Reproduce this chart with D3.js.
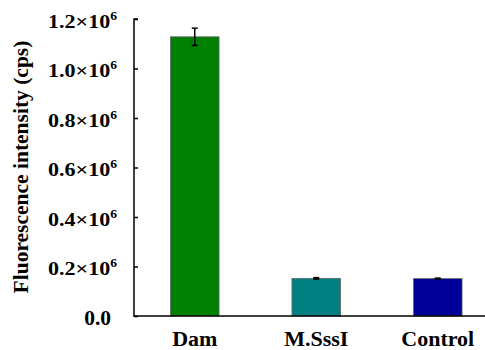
<!DOCTYPE html>
<html><head><meta charset="utf-8">
<script src="https://cdn.jsdelivr.net/npm/d3@7"></script>
<style>body{margin:0;background:#fff}svg{display:block}</style>
</head><body><svg id="c" width="485" height="350" font-family="'Liberation Serif', 'Times New Roman', Times, serif" font-weight="bold"></svg>
<script>
const categories = ["Dam", "M.SssI", "Control"];
const values = [1.128e6, 0.152e6, 0.151e6];
const errors = [0.035e6, 0.003e6, 0.002e6];
const colors = ["#008000", "#008080", "#000099"];
const yTicks = [0, 0.2e6, 0.4e6, 0.6e6, 0.8e6, 1.0e6, 1.2e6];

const svg = d3.select("#c");
const x0 = 134, yTop = 19, yBot = 316;
const x = d3.scaleBand().domain(categories).range([x0, x0 + 3 * 121.5]).paddingInner(0.6).paddingOuter(0.3);
const y = d3.scaleLinear().domain([0, 1.2e6]).range([yBot, yTop]);

// bars
svg.selectAll("rect.bar").data(categories).join("rect")
  .attr("x", d => x(d)).attr("width", x.bandwidth())
  .attr("y", (d, i) => y(values[i])).attr("height", (d, i) => y(0) - y(values[i]))
  .attr("fill", (d, i) => colors[i]).attr("stroke", "#666").attr("stroke-width", 0.8);

// error bars
const eb = svg.selectAll("g.err").data(categories).join("g").attr("stroke", "#000").attr("stroke-width", 1.5);
eb.append("line").attr("x1", d => x(d) + x.bandwidth() / 2).attr("x2", d => x(d) + x.bandwidth() / 2)
  .attr("y1", (d, i) => y(values[i] + errors[i])).attr("y2", (d, i) => y(values[i] - errors[i]));
eb.append("line").attr("x1", d => x(d) + x.bandwidth() / 2 - 3).attr("x2", d => x(d) + x.bandwidth() / 2 + 3)
  .attr("y1", (d, i) => y(values[i] + errors[i])).attr("y2", (d, i) => y(values[i] + errors[i]));
eb.append("line").attr("x1", d => x(d) + x.bandwidth() / 2 - 3).attr("x2", d => x(d) + x.bandwidth() / 2 + 3)
  .attr("y1", (d, i) => y(values[i] - errors[i])).attr("y2", (d, i) => y(values[i] - errors[i]));

// y axis
const yAxis = svg.append("g").attr("transform", `translate(${x0},0)`)
  .call(d3.axisRight(y).tickValues(yTicks).tickSize(4).tickFormat(""));
yAxis.attr("font-family", null).attr("font-size", null);
yAxis.select(".domain").attr("stroke-width", 1.5).attr("d", `M4,${yTop}H0V${yBot}`);
yAxis.selectAll(".tick line").attr("stroke-width", 1.5);
yAxis.selectAll(".tick").each(function(d) {
  const t = d3.select(this).append("text").attr("fill", "#000").attr("text-anchor", "end").attr("dy", 8);
  if (d === 0) {
    t.attr("font-size", 21.5).attr("x", -23).text("0.0");
  } else {
    t.attr("font-size", 19.5).attr("x", -17).attr("textLength", 69).attr("lengthAdjust", "spacingAndGlyphs");
    t.append("tspan").text((d / 1e6).toFixed(1) + "×10");
    t.append("tspan").attr("font-size", 12).attr("dy", -8).text("6");
  }
});

// x axis
svg.append("line").attr("x1", x0 - 0.75).attr("x2", 485).attr("y1", yBot).attr("y2", yBot)
  .attr("stroke", "#000").attr("stroke-width", 1.5);
svg.selectAll("text.xl").data(categories).join("text").attr("class", "xl")
  .attr("x", d => x(d) + x.bandwidth() / 2).attr("y", 346).attr("text-anchor", "middle")
  .attr("font-size", 22).text(d => d);

// y title
svg.append("text").attr("transform", `translate(28,167) rotate(-90)`)
  .attr("text-anchor", "middle").attr("font-size", 21.5).text("Fluorescence intensity (cps)");
</script></body></html>
